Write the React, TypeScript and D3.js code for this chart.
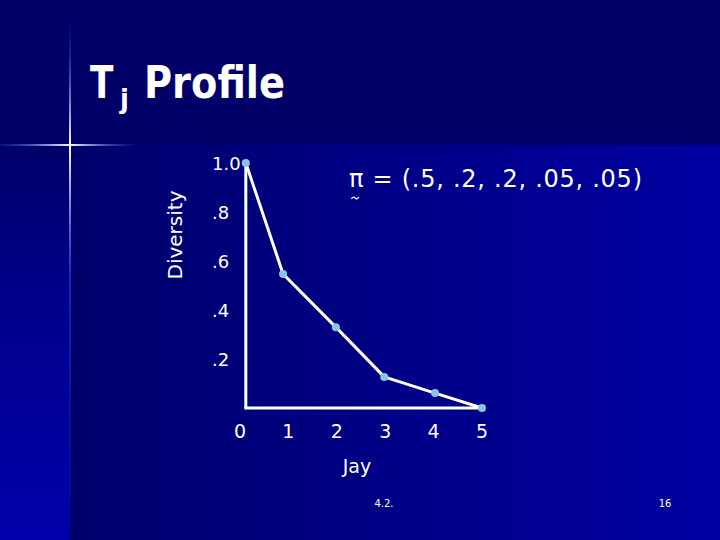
import React from "react";
import * as d3 from "d3";

const jayValues = [0.12, 0.89, 1.98, 2.98, 4.03, 5.0];
const diversityValues = [1.0, 0.547, 0.33, 0.127, 0.061, 0.0];
const xTickValues = [0, 1, 2, 3, 4, 5];
const yTickValues = [1.0, 0.8, 0.6, 0.4, 0.2];
const yTickLabels = ["1.0", ".8", ".6", ".4", ".2"];
const titleMain = "T";
const titleSub = "j";
const titleRest = "Profile";
const piLabel = "π = (.5, .2, .2, .05, .05)";

const W = 720;
const H = 540;

export default function App() {
  const x = d3.scaleLinear().domain([0, 5]).range([240, 482]);
  const y = d3.scaleLinear().domain([0, 1]).range([408, 163]);
  const line = d3
    .line<number>()
    .x((_, i) => x(jayValues[i]))
    .y((d) => y(d));
  const x0 = x(jayValues[0]);
  const xEnd = x(jayValues[jayValues.length - 1]);
  const font = "'DejaVu Sans', Verdana, sans-serif";

  return (
    <svg
      width={W}
      height={H}
      style={{ position: "absolute", left: 0, top: 0, display: "block" }}
      fontFamily={font}
    >
      <defs>
        <linearGradient id="mainGrad" x1="0" y1="0" x2="1" y2="0">
          <stop offset="0" stopColor="#00006c" />
          <stop offset="1" stopColor="#0000a2" />
        </linearGradient>
        <linearGradient id="leftGrad" x1="0" y1="0" x2="0" y2="1">
          <stop offset="0" stopColor="#00006a" />
          <stop offset="0.35" stopColor="#000088" />
          <stop offset="1" stopColor="#0000aa" />
        </linearGradient>
        <linearGradient id="hGlare" x1="0" y1="0" x2="1" y2="0">
          <stop offset="0" stopColor="#2050ff" stopOpacity="0.2" />
          <stop offset="0.5" stopColor="#ffffff" stopOpacity="1" />
          <stop offset="1" stopColor="#2050ff" stopOpacity="0" />
        </linearGradient>
        <linearGradient id="vGlare" x1="0" y1="0" x2="0" y2="1">
          <stop offset="0" stopColor="#2050ff" stopOpacity="0" />
          <stop offset="0.24" stopColor="#ffffff" stopOpacity="1" />
          <stop offset="0.5" stopColor="#2050ff" stopOpacity="0.5" />
          <stop offset="1" stopColor="#2050ff" stopOpacity="0" />
        </linearGradient>
      </defs>
      <rect x={0} y={0} width={W} height={H} fill="#000068" />
      <rect x={70} y={145} width={W - 70} height={H - 145} fill="url(#mainGrad)" />
      <rect x={0} y={145} width={70} height={H - 145} fill="url(#leftGrad)" />
      <rect x={0} y={144} width={140} height={2} fill="url(#hGlare)" />
      <rect x={69} y={20} width={2} height={520} fill="url(#vGlare)" />

      <text
        transform="translate(90,98) scale(0.78,1)"
        fill="#fff"
        fontSize={44}
        fontWeight="bold"
      >
        {titleMain}
      </text>
      <text x={120} y={108} fill="#fff" fontSize={26} fontWeight="bold">
        {titleSub}
      </text>
      <text
        x={144}
        y={98}
        fill="#fff"
        fontSize={44}
        fontWeight="bold"
        textLength={141}
        lengthAdjust="spacingAndGlyphs"
      >
        {titleRest}
      </text>

      <text
        transform={`translate(182,235) rotate(-90)`}
        textAnchor="middle"
        fill="#fff"
        fontSize={20}
      >
        Diversity
      </text>

      {yTickValues.map((v, i) => (
        <text key={"yt" + i} x={212} y={y(v) + 7} fill="#fff" fontSize={18}>
          {yTickLabels[i]}
        </text>
      ))}
      {xTickValues.map((v) => (
        <text key={"xt" + v} x={x(v)} y={438} textAnchor="middle" fill="#fff" fontSize={19}>
          {v}
        </text>
      ))}
      <text x={357} y={473} textAnchor="middle" fill="#fff" fontSize={19}>
        Jay
      </text>

      <line x1={x0} y1={y(1)} x2={x0} y2={y(0)} stroke="#fff" strokeWidth={3} />
      <line x1={x0 - 1.5} y1={y(0)} x2={xEnd} y2={y(0)} stroke="#fff" strokeWidth={3} />
      <path d={line(diversityValues) ?? ""} fill="none" stroke="#fff" strokeWidth={3} strokeLinejoin="round" />
      {diversityValues.map((d, i) => (
        <circle key={"p" + i} cx={x(jayValues[i])} cy={y(d)} r={4} fill="#8cc4e8" />
      ))}

      <text
        x={349}
        y={187}
        fill="#fff"
        fontSize={24}
        textLength={293}
        lengthAdjust="spacing"
      >
        {piLabel}
      </text>
      <path
        d="M351.5,199 q1.5,-3 3.5,-1 q2,2 4,-1"
        fill="none"
        stroke="#fff"
        strokeWidth={1.3}
      />

      <text x={384} y={507} textAnchor="middle" fill="#fff" fontSize={10}>
        4.2.
      </text>
      <text x={665} y={507} textAnchor="middle" fill="#fff" fontSize={10}>
        16
      </text>
    </svg>
  );
}
